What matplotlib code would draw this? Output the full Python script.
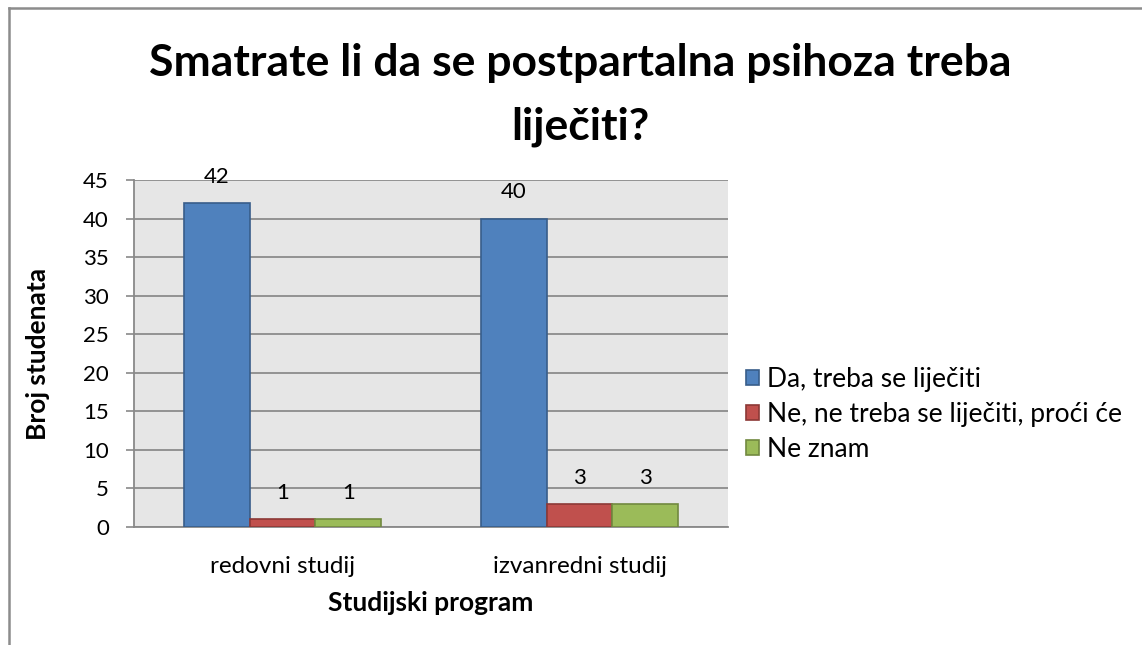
import matplotlib
matplotlib.use('Agg')
import matplotlib.pyplot as plt
import numpy as np
from matplotlib.lines import Line2D

plt.rcParams['font.family'] = ['Lato', 'DejaVu Sans']

# data
categories = ['redovni studij', 'izvanredni studij']
series_names = ['Da, treba se liječiti', 'Ne, ne treba se liječiti, proći će', 'Ne znam']
da_vals = [42, 40]
ne_vals = [1, 3]
neznam_vals = [1, 3]

face_colors = ['#4F81BD', '#C0504D', '#9BBB59']
edge_colors = ['#385D8A', '#8C3836', '#71893F']

fig = plt.figure(figsize=(11.42, 6.45), dpi=100)
ax = fig.add_axes([0.1173, 0.1829, 0.5202, 0.538])
ax.set_facecolor('#E6E6E6')

x = np.arange(len(categories))
w = 0.222
for i, vals in enumerate([da_vals, ne_vals, neznam_vals]):
    pos = x + (i - 1) * w
    ax.bar(pos, vals, width=w, color=face_colors[i], edgecolor=edge_colors[i],
           linewidth=1.2, label=series_names[i], zorder=3)
    for xi, v in zip(pos, vals):
        ax.annotate(str(v), (xi, v), xytext=(0, 19), textcoords='offset points',
                    ha='center', va='center', fontsize=16, color='black')

ax.set_xlim(-0.5, 1.5)
ax.set_ylim(0, 45)
ax.set_yticks(range(0, 50, 5))
ax.set_xticks(x)
ax.set_xticklabels(categories, fontsize=17.5)
ax.tick_params(axis='y', labelsize=16, length=6, width=1.2, color='#898989', pad=12)
ax.tick_params(axis='x', length=0, pad=21)
ax.grid(axis='y', color='#8C8C8C', lw=1.3, zorder=1)
ax.set_axisbelow(True)
for s in ['top', 'right']:
    ax.spines[s].set_visible(False)
for s in ['left', 'bottom']:
    ax.spines[s].set_color('#898989')
    ax.spines[s].set_linewidth(1.3)

ax.set_ylabel('Broj studenata', fontsize=19, fontweight='bold', labelpad=24)
ax.set_xlabel('Studijski program', fontsize=19, fontweight='bold', labelpad=10)

fig.text(0.508, 0.853, 'Smatrate li da se postpartalna psihoza treba\nliječiti?',
         ha='center', va='center', multialignment='center',
         fontsize=32, fontweight='bold', linespacing=1.72)

leg = ax.legend(loc='center left', bbox_to_anchor=(1.012, 0.325), frameon=False, fontsize=19,
                handlelength=0.5, handleheight=0.5, handletextpad=0.3, labelspacing=0.38,
                borderaxespad=0)

# outer chart border (left and top only visible)
fig.add_artist(Line2D([0.0075, 0.0075], [0, 0.987], transform=fig.transFigure, color='#8C8C8C', lw=1.8))
fig.add_artist(Line2D([0.0075, 1.0], [0.987, 0.987], transform=fig.transFigure, color='#8C8C8C', lw=1.8))

fig.savefig('out.png', dpi=100)
